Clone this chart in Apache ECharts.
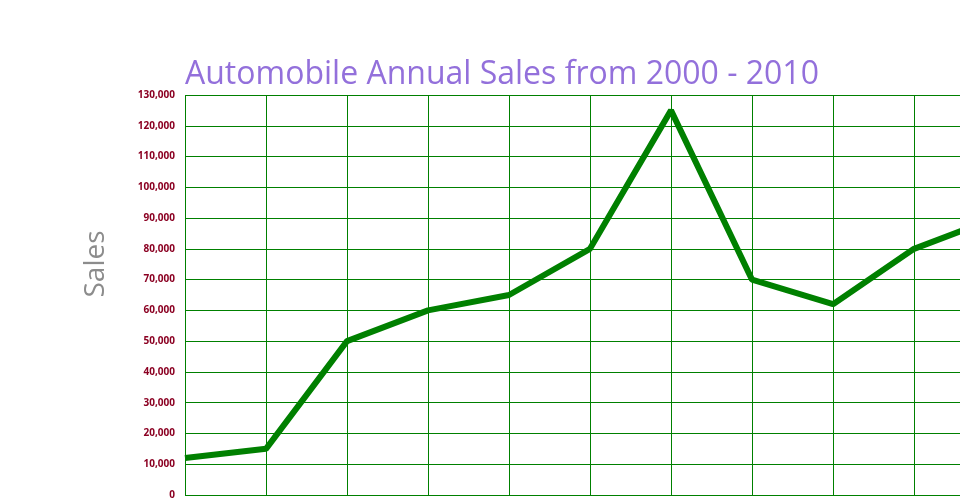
<!DOCTYPE html>
<html>
<head>
<meta charset="utf-8">
<script src="https://cdn.jsdelivr.net/npm/echarts@6/dist/echarts.min.js"></script>
<style>html,body{margin:0;padding:0;background:#fff;overflow:hidden}#c{width:1000px;height:500px}</style>
</head>
<body>
<div id="c"></div>
<script>
const years = ['2000','2001','2002','2003','2004','2005','2006','2007','2008','2009','2010'];
const sales = [12000, 15000, 50000, 60000, 65000, 80000, 125000, 70000, 62000, 80000, 90000];
const titleText = 'Automobile Annual Sales from 2000 - 2010';
const yName = 'Sales';

const chart = echarts.init(document.getElementById('c'), null, {renderer: 'canvas'});
chart.setOption({
  animation: false,
  backgroundColor: '#ffffff',
  title: {
    text: titleText,
    left: 180, top: 54,
    textStyle: {fontFamily: 'Open Sans', fontSize: 32, fontWeight: 'normal', color: '#9370DB'}
  },
  grid: {left: 185, right: 5, top: 95, bottom: 3, containLabel: false},
  xAxis: {
    type: 'category', data: years, boundaryGap: false,
    axisLine: {show: false}, axisTick: {show: false}, axisLabel: {show: false},
    splitLine: {show: true, lineStyle: {color: '#008000', width: 1}}
  },
  yAxis: {
    type: 'value', min: 0, max: 130000, interval: 10000,
    name: yName, nameLocation: 'middle', nameGap: 75, nameRotate: 90,
    nameTextStyle: {fontFamily: 'Open Sans', fontSize: 28, color: '#8c8c8c', padding: [0,0,0,62]},
    axisLine: {show: false}, axisTick: {show: false},
    axisLabel: {margin: 10, fontFamily: 'Open Sans', fontSize: 10, fontWeight: 'bold', color: '#8b0022',
      formatter: v => v.toLocaleString('en-US')},
    splitLine: {show: true, lineStyle: {color: '#008000', width: 1}}
  },
  series: [{
    type: 'line', data: sales, showSymbol: false, symbol: 'none',
    lineStyle: {color: '#008000', width: 6}, itemStyle: {color: '#008000'}
  }]
});
</script>
</body>
</html>
